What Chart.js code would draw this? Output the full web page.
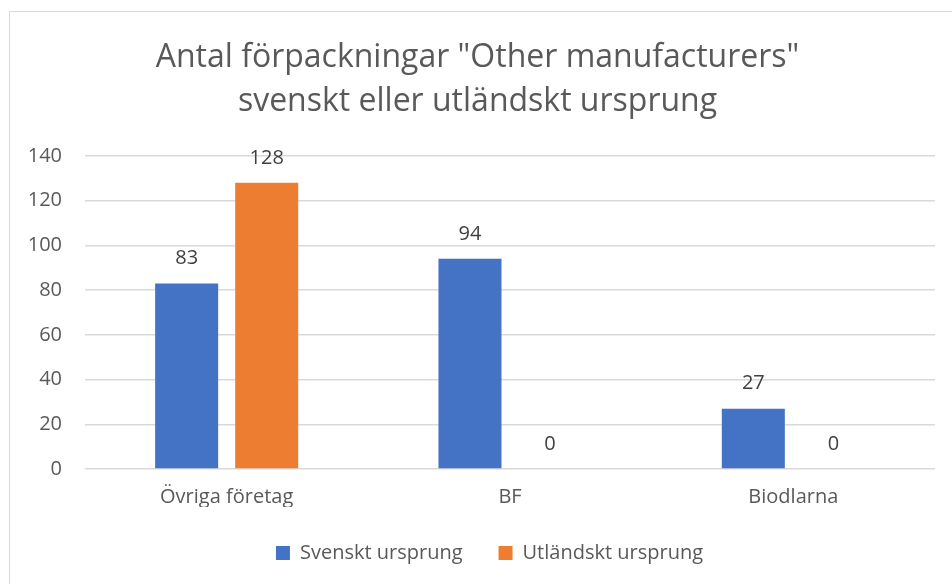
<!DOCTYPE html>
<html>
<head>
<meta charset="utf-8">
<script src="https://cdn.jsdelivr.net/npm/chart.js@4/dist/chart.umd.min.js"></script>
<style>
html,body{margin:0;padding:0;background:#fff;}
#wrap{width:952px;height:584px;position:relative;}
</style>
</head>
<body>
<div id="wrap"><canvas id="c" width="952" height="584"></canvas></div>
<script>
const titleLines = ['Antal förpackningar "Other manufacturers"', 'svenskt eller utländskt ursprung'];
const categories = ['Övriga företag', 'BF', 'Biodlarna'];
const seriesNames = ['Svenskt ursprung', 'Utländskt ursprung'];
const svensktValues = [83, 94, 27];
const utlandsktValues = [128, 0, 0];
const yTicks = [0, 20, 40, 60, 80, 100, 120, 140];

const FONT = '"Open Sans", sans-serif';
const TEXT = '#595959';

const frame = {
  id: 'frame',
  beforeDraw(chart) {
    const ctx = chart.ctx;
    ctx.save();
    ctx.fillStyle = '#fff';
    ctx.fillRect(0, 0, chart.width, chart.height);
    ctx.strokeStyle = '#d9d9d9';
    ctx.lineWidth = 1;
    ctx.strokeRect(9.5, 11.5, 2000, 2000);
    ctx.restore();
  }
};

const legendShift = {
  id: 'legendShift',
  afterLayout(chart) {
    const lg = chart.legend;
    if (lg) { lg.left += 12; lg.right += 12; }
  }
};

const valueLabels = {
  id: 'valueLabels',
  afterDatasetsDraw(chart) {
    const ctx = chart.ctx;
    ctx.save();
    ctx.font = '20px ' + FONT;
    ctx.fillStyle = '#404040';
    ctx.textAlign = 'center';
    ctx.textBaseline = 'middle';
    chart.data.datasets.forEach((ds, i) => {
      chart.getDatasetMeta(i).data.forEach((bar, j) => {
        ctx.fillText(String(ds.data[j]), bar.x, bar.y - 25);
      });
    });
    ctx.restore();
  }
};

new Chart(document.getElementById('c'), {
  type: 'bar',
  data: {
    labels: categories,
    datasets: [
      { label: seriesNames[0], data: svensktValues, backgroundColor: '#4472C4' },
      { label: seriesNames[1], data: utlandsktValues, backgroundColor: '#ED7D31' }
    ]
  },
  options: {
    responsive: false,
    animation: false,
    devicePixelRatio: 1,
    categoryPercentage: 0.565,
    barPercentage: 0.7875,
    layout: { padding: { left: 20, right: 17, top: 36, bottom: 11 } },
    plugins: {
      title: {
        display: true,
        text: titleLines,
        color: TEXT,
        font: { family: FONT, size: 32, weight: 'normal', lineHeight: 1.375 },
        padding: { top: 0, bottom: 32 }
      },
      legend: {
        position: 'bottom',
        labels: {
          color: TEXT,
          font: { family: FONT, size: 20 },
          boxWidth: 14, boxHeight: 14,
          padding: 36
        }
      },
      tooltip: { enabled: false }
    },
    scales: {
      x: {
        afterFit(scale) { scale.height = 38; },
        grid: { display: false, drawTicks: false },
        border: { display: false },
        ticks: { color: TEXT, font: { family: FONT, size: 20 }, padding: 16 }
      },
      y: {
        min: 0, max: 140,
        afterBuildTicks(scale) { scale.ticks = yTicks.map(v => ({ value: v })); },
        afterFit(scale) { scale.width = 65; },
        grid: { color: '#d9d9d9', lineWidth: 1.5, drawTicks: false },
        border: { display: false },
        ticks: { color: TEXT, font: { family: FONT, size: 20 }, padding: 23 }
      }
    }
  },
  plugins: [frame, legendShift, valueLabels]
});
</script>
</body>
</html>
